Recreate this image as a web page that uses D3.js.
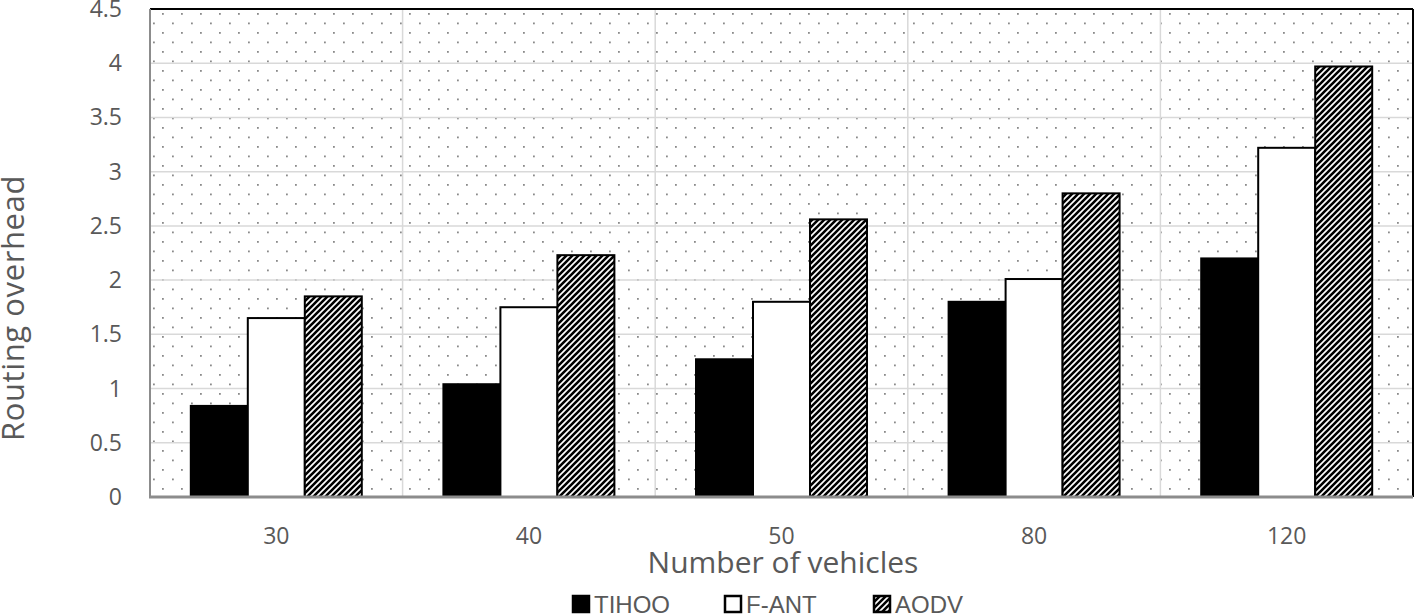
<!DOCTYPE html>
<html><head><meta charset="utf-8">
<script src="https://cdn.jsdelivr.net/npm/d3@7"></script>
<style>body{margin:0;background:#fff}svg{display:block}</style>
</head><body>
<script>
const categories = ["30","40","50","80","120"];
const seriesNames = ["TIHOO","F-ANT","AODV"];
const tihoo = [0.84,1.04,1.27,1.80,2.20];
const fant = [1.65,1.75,1.80,2.01,3.22];
const aodv = [1.85,2.23,2.56,2.80,3.97];
const yTicks = [0,0.5,1,1.5,2,2.5,3,3.5,4,4.5];
const series = [tihoo, fant, aodv];

const W=1415,H=615;
const L=150,R=1413,T=9,B=497;
const svg=d3.select("body").append("svg").attr("width",W).attr("height",H);
const defs=svg.append("defs");
const dots=defs.append("pattern").attr("id","dots").attr("patternUnits","userSpaceOnUse")
  .attr("width",19).attr("height",19).attr("x",L+3).attr("y",T+4);
dots.append("rect").attr("x",9).attr("y",0).attr("width",1.8).attr("height",1.8).attr("fill","#8a8a8a");
dots.append("rect").attr("x",0).attr("y",9.5).attr("width",1.8).attr("height",1.8).attr("fill","#8a8a8a");
const hatch=defs.append("pattern").attr("id","hatch").attr("patternUnits","userSpaceOnUse")
  .attr("width",6).attr("height",6);
hatch.append("rect").attr("width",6).attr("height",6).attr("fill","#fff");
hatch.append("path").attr("d","M-1,1 l2,-2 M0,6 l6,-6 M5,7 l2,-2").attr("stroke","#000").attr("stroke-width",2.6);

const x=d3.scaleBand().domain(categories).range([L,R]).paddingInner(0).paddingOuter(0);
const xi=d3.scaleBand().domain(seriesNames).range([0,x.bandwidth()]).paddingOuter(0.716).paddingInner(0);
const y=d3.scaleLinear().domain([0,4.5]).range([B,T]);

svg.append("rect").attr("x",L).attr("y",T).attr("width",R-L).attr("height",B-T).attr("fill","url(#dots)");
svg.append("g").selectAll("line").data(yTicks.slice(1,-1)).join("line")
  .attr("x1",L).attr("x2",R).attr("y1",d=>y(d)).attr("y2",d=>y(d)).attr("stroke","#d9d9d9").attr("stroke-width",1.5);
svg.append("g").selectAll("line").data(categories.slice(1)).join("line")
  .attr("x1",d=>x(d)).attr("x2",d=>x(d)).attr("y1",T).attr("y2",B).attr("stroke","#d9d9d9").attr("stroke-width",1.5);
svg.append("line").attr("x1",L).attr("x2",R).attr("y1",T).attr("y2",T).attr("stroke","#000").attr("stroke-width",2);
svg.append("line").attr("x1",R).attr("x2",R).attr("y1",T).attr("y2",B).attr("stroke","#000").attr("stroke-width",2);
svg.append("line").attr("x1",L).attr("x2",L).attr("y1",T).attr("y2",B).attr("stroke","#8c8c8c").attr("stroke-width",2);

const fills=["#000","#fff","url(#hatch)"];
series.forEach((s,si)=>{
  svg.append("g").selectAll("rect").data(s).join("rect")
    .attr("x",(d,i)=>x(categories[i])+xi(seriesNames[si]))
    .attr("width",xi.bandwidth())
    .attr("y",d=>y(d)).attr("height",d=>B-y(d))
    .attr("fill",fills[si]).attr("stroke","#000").attr("stroke-width",2);
});
svg.append("line").attr("x1",L-1).attr("x2",R).attr("y1",B).attr("y2",B).attr("stroke","#8c8c8c").attr("stroke-width",3);

const font="'Open Sans', 'DejaVu Sans', sans-serif";
svg.append("g").selectAll("text").data(yTicks).join("text")
  .attr("x",122).attr("y",d=>y(d)+8).attr("text-anchor","end")
  .attr("font-family",font).attr("font-size",23).attr("fill","#595959").text(d=>d);
svg.append("g").selectAll("text").data(categories).join("text")
  .attr("x",d=>x(d)+x.bandwidth()/2).attr("y",544).attr("text-anchor","middle")
  .attr("font-family",font).attr("font-size",23).attr("fill","#595959").text(d=>d);
svg.append("text").attr("x",783).attr("y",573).attr("text-anchor","middle")
  .attr("font-family",font).attr("font-size",30).attr("fill","#595959").text("Number of vehicles");
svg.append("text").attr("transform","translate(24,308) rotate(-90)").attr("text-anchor","middle")
  .attr("font-family",font).attr("font-size",31).attr("letter-spacing",0.6).attr("fill","#595959").text("Routing overhead");

const legX=[572,724,873];
const lg=svg.append("g");
seriesNames.forEach((n,i)=>{
  lg.append("rect").attr("x",legX[i]+1).attr("y",596).attr("width",16).attr("height",16)
    .attr("fill",fills[i]).attr("stroke","#000").attr("stroke-width",2.5);
  lg.append("text").attr("x",legX[i]+22).attr("y",613).attr("font-family","'Liberation Sans', Arial, sans-serif")
    .attr("font-size",24).attr("fill","#595959").text(n);
});
</script>
</body></html>
